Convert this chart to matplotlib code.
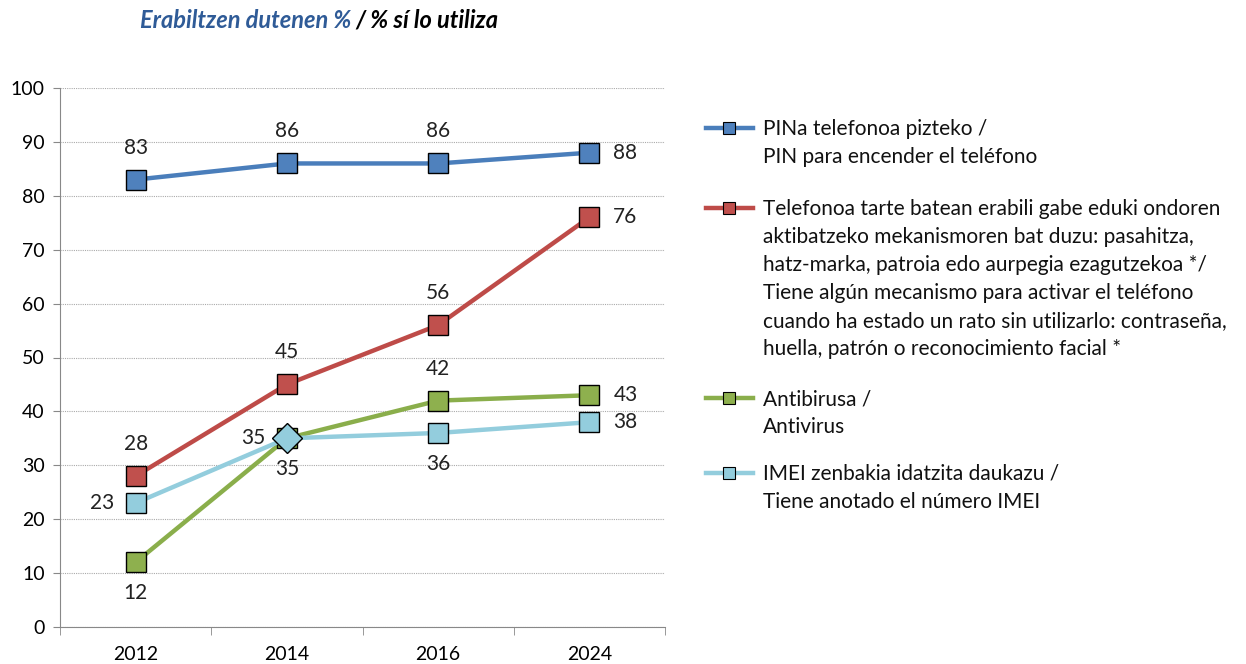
import numpy as np
from matplotlib import pyplot as plt
from matplotlib.lines import Line2D

plt.rcParams['font.family'] = ['Lato', 'DejaVu Sans']

years = ['2012', '2014', '2016', '2024']
pin = [83, 86, 86, 88]
blokeoa = [28, 45, 56, 76]
antibirusa = [12, 35, 42, 43]
imei = [23, 35, 36, 38]

labels = [
    'PINa telefonoa pizteko /\nPIN para encender el teléfono',
    'Telefonoa tarte batean erabili gabe eduki ondoren\n'
    'aktibatzeko mekanismoren bat duzu: pasahitza,\n'
    'hatz-marka, patroia edo aurpegia ezagutzekoa */\n'
    'Tiene algún mecanismo para activar el teléfono\n'
    'cuando ha estado un rato sin utilizarlo: contraseña,\n'
    'huella, patrón o reconocimiento facial *',
    'Antibirusa /\nAntivirus',
    'IMEI zenbakia idatzita daukazu /\nTiene anotado el número IMEI',
]

series = [pin, blokeoa, antibirusa, imei]
line_colors = ['#4A7EBB', '#BE4B48', '#8AAE4B', '#93CDDD']
fill_colors = ['#4F81BD', '#C0504D', '#8EB04E', '#93CDDD']
# etiketa kokapena: u=goian, d=behean, l=ezkerrean, r=eskuinean
label_pos = [
    ['u', 'u', 'u', 'r'],
    ['u', 'u', 'u', 'r'],
    ['d', 'd', 'u', 'r'],
    ['l', 'l', 'd', 'r'],
]
markers_imei = ['s', 'D', 's', 's']

W, H = 1246, 664
fig = plt.figure(figsize=(W / 100, H / 100), dpi=100)
ax = fig.add_axes([60 / W, 1 - 627 / H, 605 / W, 539 / H])

x = np.arange(len(years))
offs = {'u': (0, 32, 'center'), 'd': (0, -31, 'center'),
        'l': (-21, 0, 'right'), 'r': (24, 0, 'left')}

for i, (vals, lc, fc) in enumerate(zip(series, line_colors, fill_colors)):
    ax.plot(x, vals, color=lc, linewidth=3.2, zorder=3 + i)
    for j, v in enumerate(vals):
        m = markers_imei[j] if i == 3 else 's'
        ms = 14 if m == 's' else 15
        ax.plot(x[j], v, marker=m, markersize=ms, markerfacecolor=fc,
                markeredgecolor='black', markeredgewidth=1.0, zorder=3 + i,
                linestyle='none')
        dx, dy, ha = offs[label_pos[i][j]]
        ax.annotate(str(v), (x[j], v), xytext=(dx, dy), textcoords='offset pixels',
                    ha=ha, va='center', fontsize=15, color='#222222')

ax.set_xlim(-0.5, 3.5)
ax.set_ylim(0, 100)
ax.set_yticks(range(0, 101, 10))
ax.set_xticks(x)
ax.set_xticklabels(years)
ax.set_xticks(np.arange(-0.5, 3.6, 1), minor=True)
ax.tick_params(axis='x', which='major', length=0, pad=14, labelsize=14)
ax.tick_params(axis='x', which='minor', length=6, color='#888888')
ax.tick_params(axis='y', length=5, color='#888888', labelsize=14, pad=6)
ax.yaxis.grid(True, linestyle=(0, (1, 1)), color='#aaaaaa', linewidth=0.8)
ax.set_axisbelow(True)
for s in ['top', 'right']:
    ax.spines[s].set_visible(False)
ax.spines['left'].set_color('#888888')
ax.spines['bottom'].set_color('#888888')

# legenda eskuz
leg_y = [128, 208, 398, 473]
for i, yy in enumerate(leg_y):
    yf = 1 - yy / H
    fig.add_artist(Line2D([706 / W, 753 / W], [yf, yf], color=line_colors[i],
                          linewidth=3.2, transform=fig.transFigure))
    fig.add_artist(Line2D([729.5 / W], [yf], marker='s', markersize=9,
                          markerfacecolor=fill_colors[i], markeredgecolor='black',
                          markeredgewidth=0.8, transform=fig.transFigure))
    fig.text(763 / W, 1 - (yy - 9) / H, labels[i], ha='left', va='top',
             fontsize=15, linespacing=1.5, color='#111111')

# izenburua
fig.text(351 / W, 1 - 20 / H, 'Erabiltzen dutenen %', ha='right', va='center',
         fontsize=17, fontweight='bold', fontstyle='italic', color='#2F5B97')
fig.text(355 / W, 1 - 20 / H, '/ % sí lo utiliza', ha='left', va='center',
         fontsize=17, fontweight='bold', fontstyle='italic', color='black')

plt.savefig('out.png', dpi=100)
